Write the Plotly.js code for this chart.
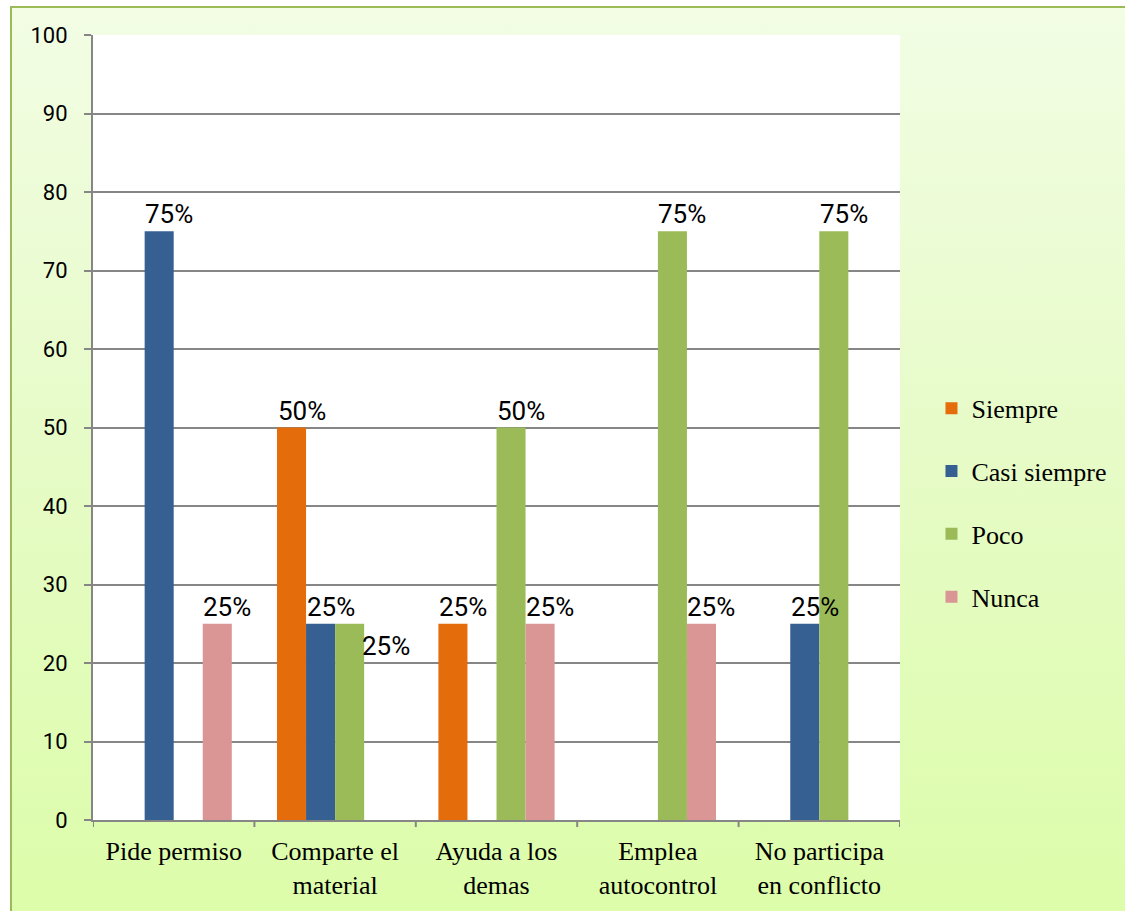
<!DOCTYPE html>
<html>
<head>
<meta charset="utf-8">
<script src="https://cdn.plot.ly/plotly-3.0.1.min.js"></script>
<style>
  html, body { margin: 0; padding: 0; background: #ffffff; }
  #frame {
    position: absolute; left: 10px; top: 6px; width: 1125px; height: 915px;
    border-left: 2px solid #9BBB59; border-top: 2px solid #9BBB59;
    background: linear-gradient(to bottom, #F2FDE4 0%, #E6FBC6 50%, #DCFDA9 100%);
  }
  #chart { position: absolute; left: 0; top: 0; width: 1125px; height: 911px; }
</style>
</head>
<body>
<div id="frame"></div>
<div id="chart"></div>
<script>
const categories = ['Pide permiso', 'Comparte el<br>material', 'Ayuda a los<br>demas', 'Emplea<br>autocontrol', 'No participa<br>en conflicto'];
const seriesNames = ['Siempre', 'Casi siempre', 'Poco', 'Nunca'];
const siempre     = [0, 50, 25, 0, 0];
const casiSiempre = [75, 25, 0, 0, 25];
const poco        = [0, 25, 50, 75, 75];
const nunca       = [25, 0, 25, 25, 0];
const labelsSiempre = ['', '50%', '25%', '', ''];
const labelsCasi    = ['75%', '25%', '', '', '25%'];
const labelsPoco    = ['', '25%', '50%', '75%', '75%'];
const labelsNunca   = ['25%', '', '25%', '25%', ''];
const colors = ['#E46C0A', '#376092', '#9BBB59', '#D99694'];

const values = [siempre, casiSiempre, poco, nunca];
const labels = [labelsSiempre, labelsCasi, labelsPoco, labelsNunca];

const traces = values.map((v, k) => ({
  type: 'bar', name: seriesNames[k], x: categories.map((c, i) => i), y: v,
  marker: { color: colors[k] }, legendgroup: 'g' + k,
  hoverinfo: 'none'
}));

const bargap = 0.28;
const slot = (1 - bargap) / 4;
const annotations = [];
labels.forEach((arr, k) => {
  arr.forEach((t, i) => {
    if (!t) return;
    const xpos = i - (1 - bargap) / 2 + slot * (k + 0.5);
    let ann = {
      x: xpos, y: values[k][i], xref: 'x', yref: 'y', text: t, showarrow: false,
      xanchor: 'center', yanchor: 'bottom', xshift: 10, yshift: 0,
      font: { family: 'Roboto, sans-serif', size: 26, color: '#000' }
    };
    // the Poco label of "Comparte el material" sits moved to the right and below the bar top
    if (k === 2 && i === 1) { ann.xshift = 36; ann.yanchor = 'middle'; ann.yshift = -22; }
    annotations.push(ann);
  });
});

const layout = {
  width: 1125, height: 911,
  paper_bgcolor: 'rgba(0,0,0,0)', plot_bgcolor: '#ffffff',
  margin: { l: 93, r: 225, t: 35, b: 91, autoexpand: false },
  barmode: 'group', bargap: bargap, bargroupgap: 0,
  showlegend: true,
  legend: {
    x: 1.039, xanchor: 'left', y: 0.404, yanchor: 'middle',
    font: { family: '"Liberation Serif", "Times New Roman", serif', size: 26, color: '#000' },
    tracegroupgap: 26, bgcolor: 'rgba(0,0,0,0)', itemwidth: 30
  },
  xaxis: {
    type: 'linear', range: [-0.5, 4.5], tickmode: 'array',
    tickvals: [0, 1, 2, 3, 4], ticktext: categories,
    ticks: '', showgrid: false, zeroline: false,
    showline: true, linecolor: '#868686', linewidth: 2,
    ticklabelstandoff: 7,
    tickfont: { family: '"Liberation Serif", "Times New Roman", serif', size: 26, color: '#000' },
    fixedrange: true
  },
  yaxis: {
    range: [0, 100], dtick: 10, tick0: 0,
    ticks: 'outside', ticklen: 7, tickcolor: '#868686', tickwidth: 2,
    showgrid: true, gridcolor: '#868686', gridwidth: 2,
    showline: true, linecolor: '#868686', linewidth: 2,
    zeroline: false, ticklabelstandoff: 12,
    tickfont: { family: 'Roboto, sans-serif', size: 22, color: '#000' },
    fixedrange: true
  },
  shapes: [0, 1, 2, 3, 4, 5].map(j => ({
    type: 'line', xref: 'x', yref: 'paper', x0: j - 0.5, x1: j - 0.5,
    y0: 0, y1: -0.009, line: { color: '#868686', width: 2 }
  })),
  annotations: annotations
};

Plotly.newPlot('chart', traces, layout, { displayModeBar: false, staticPlot: true });
</script>
</body>
</html>
